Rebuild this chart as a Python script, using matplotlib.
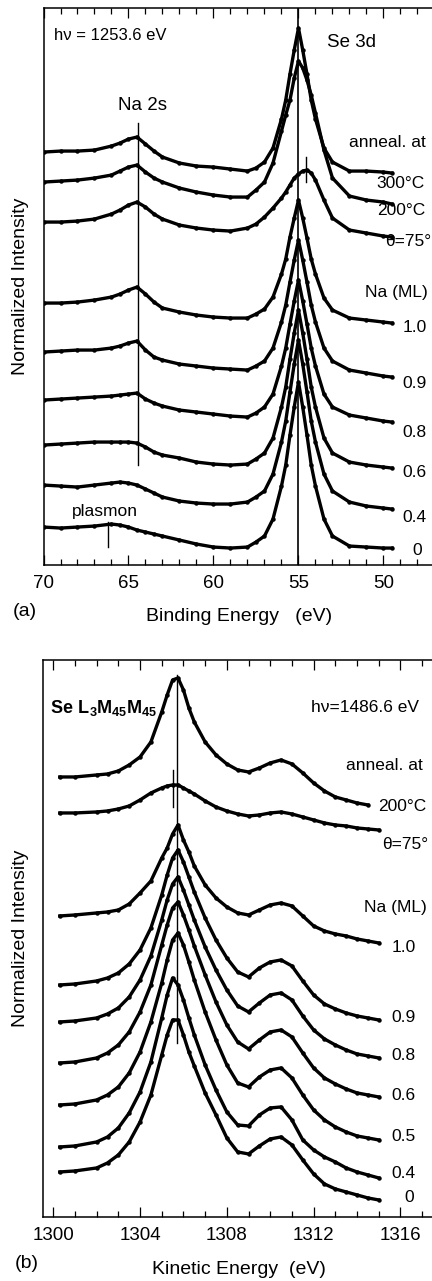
import numpy as np
import matplotlib.pyplot as plt
from matplotlib.ticker import MultipleLocator

plt.rcParams['font.family'] = ['Liberation Sans', 'DejaVu Sans']
plt.rcParams['mathtext.fontset'] = 'custom'
plt.rcParams['mathtext.rm'] = 'Liberation Sans'
plt.rcParams['mathtext.bf'] = 'Liberation Sans:bold'

# ---- (a) Se 3d / Na 2s, hv = 1253.6 eV (curves stacked, arbitrary units)
be = [70, 69, 68, 67, 66, 65.5, 65, 64.5, 64, 63.5, 63, 62, 61, 60, 59, 58,
      57.5, 57, 56.5, 56, 55.75, 55.5, 55.25, 55, 54.75, 54.5, 54.25, 54,
      53.5, 53, 52, 51, 50, 49.5]

a_300C = [413, 414, 414, 415, 419, 422, 426, 428, 421, 414, 408, 402, 399, 398, 396, 394,
          397, 403, 417, 446, 465, 491, 515, 537, 515, 491, 465, 446, 417, 403, 394, 394, 393, 392]
a_200C = [383, 384, 385, 387, 390, 394, 398, 400, 393, 387, 383, 377, 373, 370, 368, 368,
          375, 383, 402, 434, 450, 465, 487, 504, 497, 485, 470, 452, 415, 387, 369, 365, 363, 361]
a_theta75 = [343, 343, 344, 346, 351, 355, 360, 363, 358, 351, 346, 340, 337, 335, 334, 337,
             341, 348, 357, 367, 373, 380, 387, 391, 394, 395, 392, 385, 365, 347, 335, 332, 329, 328]
a_na10 = [262, 262, 263, 265, 268, 271, 275, 278, 271, 263, 257, 253, 250, 248, 247, 247,
          251, 256, 268, 291, 306, 328, 347, 365, 347, 327, 306, 291, 267, 255, 247, 245, 243, 242]
a_na09 = [213, 214, 215, 215, 217, 219, 222, 224, 215, 208, 205, 201, 199, 197, 196, 195,
          199, 204, 217, 243, 260, 283, 305, 325, 305, 283, 260, 243, 217, 204, 195, 192, 189, 188]
a_na08 = [165, 166, 167, 168, 169, 170, 171, 172, 166, 162, 159, 155, 153, 151, 149, 148,
          152, 158, 171, 199, 217, 241, 264, 285, 264, 241, 217, 199, 171, 158, 150, 147, 144, 143]
a_na06 = [120, 121, 122, 123, 123, 123, 123, 122, 118, 113, 110, 107, 103, 101, 100, 101,
          106, 112, 127, 158, 178, 206, 232, 255, 232, 206, 178, 158, 127, 112, 103, 100, 98, 97]
a_na04 = [80, 79, 78, 80, 82, 83, 82, 80, 76, 72, 68, 64, 62, 61, 61, 63,
          68, 74, 91, 123, 144, 173, 201, 225, 201, 173, 144, 123, 91, 74, 63, 59, 57, 56]
a_na00 = [38, 37, 38, 39, 41, 40, 38, 35, 33, 31, 29, 25, 21, 18, 17, 18,
          23, 29, 46, 79, 100, 130, 158, 183, 158, 130, 100, 79, 46, 29, 19, 18, 17, 17]

# ---- (b) Se L3M45M45 Auger, hv = 1486.6 eV
ke = [1300.3, 1301, 1302, 1302.5, 1303, 1303.5, 1304, 1304.5, 1305, 1305.25, 1305.5,
      1305.75, 1306, 1306.25, 1306.5, 1307, 1307.5, 1308, 1308.5, 1309, 1309.5, 1310,
      1310.5, 1311, 1311.5, 1312, 1312.5, 1313, 1313.5, 1314, 1314.5, 1315]

b_200C = [440, 440, 442, 443, 446, 452, 460, 475, 505, 522, 537, 539, 527, 509, 495, 475,
          462, 453, 447, 445, 449, 454, 457, 453, 444, 434, 426, 420, 417, 414, 412, np.nan]
b_theta75 = [404, 404, 405, 406, 408, 411, 417, 424, 429, 431, 432, 432, 429, 426, 423, 416,
             410, 406, 403, 401, 402, 404, 405, 403, 400, 397, 394, 392, 391, 389, 388, 387]
b_na10 = [301, 302, 304, 305, 307, 313, 324, 336, 359, 369, 383, 392, 377, 365, 351, 332,
          319, 310, 304, 302, 307, 312, 314, 311, 301, 291, 286, 283, 281, 278, 276, 274]
b_na09 = [232, 233, 236, 239, 244, 253, 267, 289, 322, 342, 359, 367, 355, 340, 325, 299,
          277, 259, 245, 240, 249, 255, 257, 251, 236, 222, 213, 208, 204, 201, 199, 197]
b_na08 = [195, 196, 199, 203, 209, 220, 237, 261, 297, 317, 333, 340, 327, 312, 297, 270,
          247, 227, 211, 205, 214, 222, 224, 217, 201, 187, 178, 172, 167, 163, 161, 159]
b_na06 = [154, 155, 159, 164, 172, 185, 205, 232, 272, 292, 309, 315, 302, 287, 271, 242,
          215, 192, 175, 168, 177, 185, 187, 180, 164, 149, 139, 133, 128, 124, 122, 120]
b_na05 = [112, 113, 117, 122, 130, 144, 165, 195, 234, 257, 277, 284, 272, 255, 237, 205,
          177, 152, 134, 130, 140, 147, 149, 139, 122, 107, 97, 90, 85, 81, 79, 77]
b_na04 = [70, 71, 75, 80, 89, 104, 125, 155, 199, 222, 239, 232, 217, 199, 182, 152,
          127, 105, 92, 91, 102, 109, 110, 97, 77, 67, 60, 55, 49, 45, 42, 39]
b_na00 = [45, 46, 49, 54, 62, 75, 95, 122, 162, 182, 197, 197, 182, 165, 151, 124,
          102, 79, 65, 63, 71, 78, 80, 72, 57, 43, 33, 28, 25, 22, 19, 17]

fig = plt.figure(figsize=(4.32, 12.81), dpi=100)
ax1 = fig.add_axes([0.1007, 0.5589, 0.905, 0.4348])
ax2 = fig.add_axes([0.1002, 0.0500, 0.905, 0.4348])


def style_axes(ax, major, lo, hi):
    ax.set_xlim(lo, hi)
    ax.set_ylim(0, 557)
    ax.xaxis.set_major_locator(MultipleLocator(major))
    ax.xaxis.set_minor_locator(MultipleLocator(1))
    ax.tick_params(axis='x', which='both', direction='in', top=True, bottom=True,
                   labelsize=13.5, pad=7, width=0.9)
    ax.tick_params(axis='x', which='major', length=7)
    ax.tick_params(axis='x', which='minor', length=4.5)
    ax.set_yticks([])
    for s in ax.spines.values():
        s.set_linewidth(1.1)
    ax.spines['right'].set_visible(False)
    ax.set_ylabel('Normalized Intensity', fontsize=14)
    ax.yaxis.set_label_coords(-0.036, 0.5)


def spectrum(ax, x, y):
    ax.plot(x, y, color='black', lw=2.4, marker='o', ms=2.2, solid_joinstyle='round')


# panel (a)
style_axes(ax1, 5, 70, 47)
for y in [a_300C, a_200C, a_theta75, a_na10, a_na09, a_na08, a_na06, a_na04, a_na00]:
    spectrum(ax1, be, y)
ax1.axvline(55.0, color='black', lw=1.2)
ax1.plot([64.45, 64.45], [100, 442], color='black', lw=1.0)
ax1.plot([54.55, 54.55], [383, 408], color='black', lw=1.0)
ax1.plot([66.2, 66.2], [18, 43], color='black', lw=1.0)

ax1.text(69.4, 530, 'hν = 1253.6 eV', fontsize=12, va='center')
ax1.text(53.3, 523, 'Se 3d', fontsize=13.5, va='center')
ax1.text(65.6, 460, 'Na 2s', fontsize=13.5, va='center')
ax1.text(68.3, 54, 'plasmon', fontsize=12.5, va='center')
ax1.text(52.0, 423, 'anneal. at', fontsize=12.5, va='center')
ax1.text(50.4, 382, '300°C', fontsize=12.5, va='center')
ax1.text(50.4, 355, '200°C', fontsize=12.5, va='center')
ax1.text(49.9, 324, 'θ=75°', fontsize=12.5, va='center')
ax1.text(51.1, 273, 'Na (ML)', fontsize=12.5, va='center')
for lab, yv in [('1.0', 238), ('0.9', 182), ('0.8', 133), ('0.6', 93), ('0.4', 48)]:
    ax1.text(48.9, yv, lab, fontsize=12.5, va='center')
ax1.text(48.3, 15, '0', fontsize=12.5, va='center')
ax1.set_xlabel('Binding Energy   (eV)', fontsize=14, va='top')
ax1.xaxis.set_label_coords(0.5, -0.077)
fig.text(0.030, 1 - 612 / 1281, '(a)', fontsize=14, va='center')

# panel (b)
style_axes(ax2, 4, 1299.54, 1317.56)
for y in [b_200C, b_theta75, b_na10, b_na09, b_na08, b_na06, b_na05, b_na04, b_na00]:
    spectrum(ax2, ke, y)
ax2.plot([1305.7, 1305.7], [174, 542], color='black', lw=1.0)
ax2.plot([1305.53, 1305.53], [410, 447], color='black', lw=1.0)

ax2.text(1299.85, 509, r'$\mathbf{Se\ L_3M_{45}M_{45}}$', fontsize=13, va='center')
ax2.text(1311.87, 509, 'hν=1486.6 eV', fontsize=12.5, va='center')
ax2.text(1313.48, 451, 'anneal. at', fontsize=12.5, va='center')
ax2.text(1314.96, 410, '200°C', fontsize=12.5, va='center')
ax2.text(1315.15, 372, 'θ=75°', fontsize=12.5, va='center')
ax2.text(1314.3, 309, 'Na (ML)', fontsize=12.5, va='center')
for lab, yv in [('1.0', 269), ('0.9', 199), ('0.8', 161), ('0.6', 121), ('0.5', 80), ('0.4', 43)]:
    ax2.text(1315.6, yv, lab, fontsize=12.5, va='center')
ax2.text(1316.2, 19, '0', fontsize=12.5, va='center')
ax2.set_xlabel('Kinetic Energy  (eV)', fontsize=14, va='top')
ax2.xaxis.set_label_coords(0.5, -0.079)
fig.text(0.035, 1 - 1264 / 1281, '(b)', fontsize=14, va='center')

fig.savefig('out.png', dpi=100)
